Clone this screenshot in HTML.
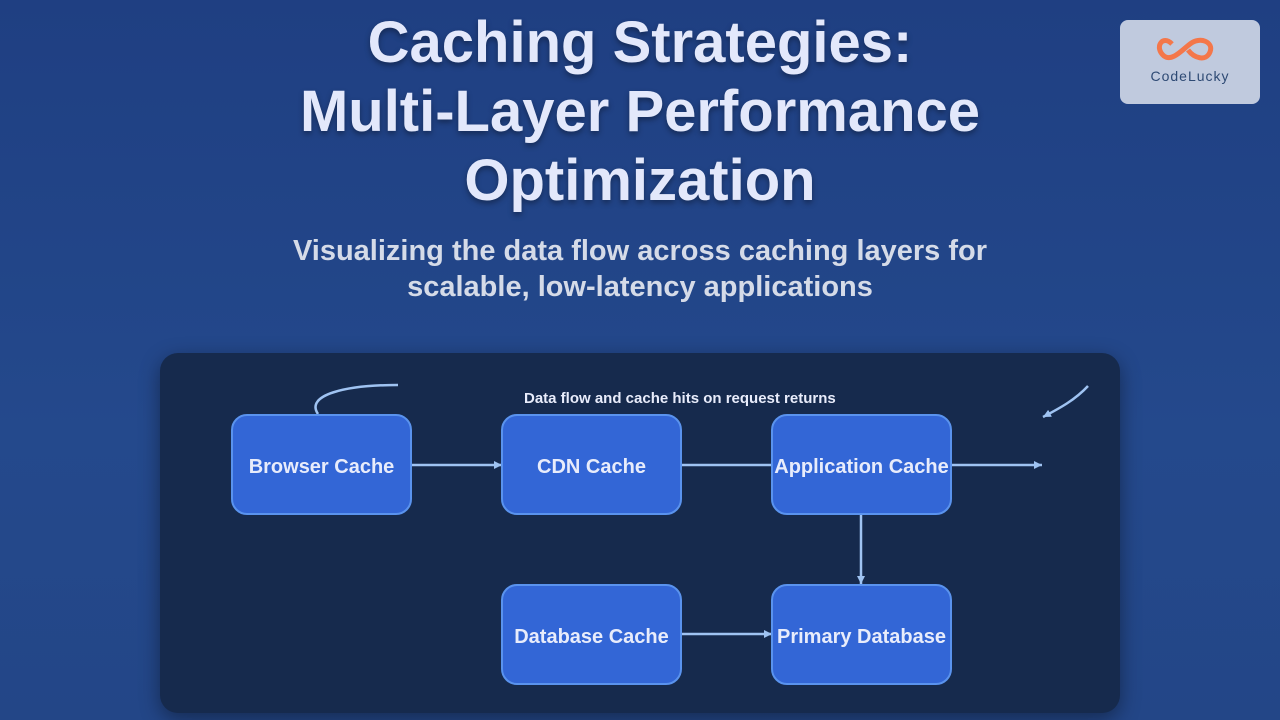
<!DOCTYPE html>
<html style="overflow:hidden"><head><style>
body{margin:0;width:1280px;height:720px;overflow:hidden;background:linear-gradient(180deg,#1f3f82 0%,#24498c 60%,#234687 100%);font-family:"Liberation Sans",sans-serif;position:relative}
h1{position:absolute;top:8px;left:0;width:1280px;text-align:center;margin:0;color:#e3e8fb;font-size:58px;line-height:69px;font-weight:bold;text-shadow:0 3px 6px rgba(0,0,0,.35)}
.sub{position:absolute;top:233px;left:0;width:1280px;text-align:center;color:#d5dbe8;font-size:29px;line-height:36px;font-weight:bold}
.logo{position:absolute;left:1120px;top:20px;width:140px;height:84px;background:#c0cade;border-radius:8px;overflow:hidden}
.lt{position:absolute;left:0;top:48px;width:140px;text-align:center;color:#2e4a74;font-size:14px;letter-spacing:1px;z-index:2}
.panel{position:absolute;left:160px;top:353px;width:960px;height:360px;background:#162a4d;border-radius:18px;box-shadow:0 6px 20px rgba(0,0,0,.4)}
.n{position:absolute;width:181px;height:101px;background:#3366d6;border:2px solid #5a93ee;border-radius:16px;box-sizing:border-box;color:#e8ecfb;font-weight:bold;font-size:20px;display:flex;align-items:center;justify-content:center;white-space:nowrap;padding-top:5px}
.lbl{position:absolute;left:524px;top:390px;color:#e8ecfb;font-weight:bold;font-size:15px}
</style></head><body>
<h1>Caching Strategies:<br>Multi-Layer Performance<br>Optimization</h1>
<div class="sub">Visualizing the data flow across caching layers for<br>scalable, low-latency applications</div>
<div class="logo"><svg style="position:absolute;left:0;top:0" width="140" height="50"><path d="M52 24 C42 14,34 28,44 36 C52 42,62 30,70 24 C80 16,94 22,90 32 C86 42,74 38,68 30" fill="none" stroke="#f4774a" stroke-width="5"/></svg><div class="lt">CodeLucky</div></div>
<div class="panel"></div>
<svg style="position:absolute;left:0;top:0" width="1280" height="720">
<defs><marker id="a" markerUnits="userSpaceOnUse" markerWidth="10" markerHeight="10" refX="8" refY="4" orient="auto"><path d="M0,0 L8,4 L0,8z" fill="#9fc3f2"/></marker></defs>
<g stroke="#9fc3f2" stroke-width="2.5" fill="none">
<path d="M412 465 H502" marker-end="url(#a)"/>
<path d="M682 465 H775"/>
<path d="M952 465 H1042" marker-end="url(#a)"/>
<path d="M861 515 V584" marker-end="url(#a)"/>
<path d="M682 634 H772" marker-end="url(#a)"/>
<path d="M318 414 C305 395,345 385,398 385"/>
<path d="M1088 386 C1075 400,1060 408,1043 417" marker-end="url(#a)"/>
</g></svg>
<div class="lbl">Data flow and cache hits on request returns</div>
<div class="n" style="left:231px;top:414px">Browser Cache</div>
<div class="n" style="left:501px;top:414px">CDN Cache</div>
<div class="n" style="left:771px;top:414px">Application Cache</div>
<div class="n" style="left:501px;top:584px">Database Cache</div>
<div class="n" style="left:771px;top:584px">Primary Database</div>
</body></html>
